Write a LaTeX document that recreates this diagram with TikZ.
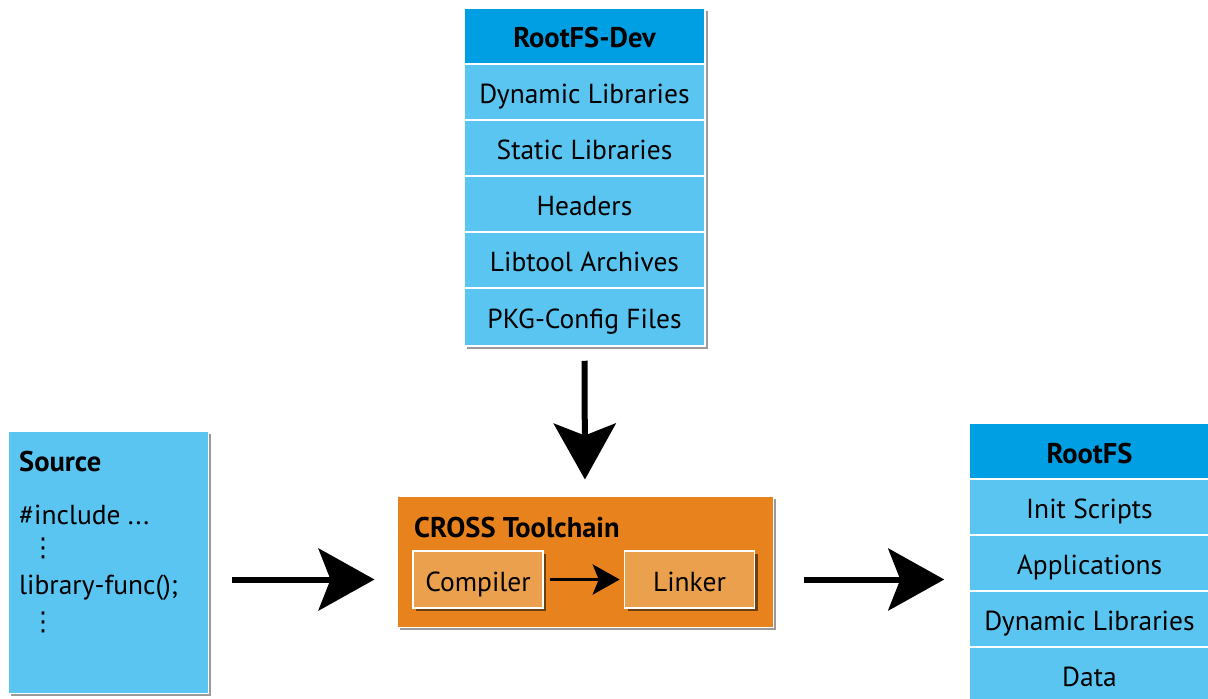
\documentclass[tikz,border=0pt]{standalone}
\usepackage{fontspec}
\setmainfont{PT Sans}
\newfontfamily\djv{DejaVu Sans}
\usetikzlibrary{arrows.meta,shadows}
\definecolor{lblue}{HTML}{5BC5F2}
\definecolor{dblue}{HTML}{009FE3}
\definecolor{orng}{HTML}{E8821C}
\definecolor{lorng}{HTML}{EBA04E}
\definecolor{shad}{HTML}{9A9A9A}
\definecolor{bshad}{HTML}{6A4010}
\tikzset{
  gshadow/.style={general shadow={fill=shad, shadow xshift=3pt, shadow yshift=-3pt}},
  rowbox/.style={rectangle, fill=lblue, draw=white, line width=1.5pt, minimum width=241pt,
    minimum height=56pt, inner sep=0pt, text height=23pt, text depth=0pt,
    font=\fontsize{27.5}{30}\selectfont, gshadow},
  headbox/.style={rowbox, fill=dblue, font=\fontsize{28.5}{30}\selectfont\bfseries},
  srcbox/.style={rectangle, fill=lblue, draw=white, line width=1pt, minimum width=200pt,
    minimum height=262pt, inner sep=0pt, gshadow},
  crossbox/.style={rectangle, fill=orng, draw=white, line width=1pt, minimum width=376pt,
    minimum height=131pt, inner sep=0pt, gshadow},
  toolbox/.style={rectangle, fill=lorng, draw=white, line width=1.5pt, minimum width=130pt,
    minimum height=57pt, inner sep=0pt, text height=24pt, text depth=0pt,
    font=\fontsize{27.5}{30}\selectfont,
    general shadow={fill=bshad, shadow xshift=3pt, shadow yshift=-3pt}},
  txt/.style={anchor=base west, inner sep=0pt, font=\fontsize{27.5}{30}\selectfont},
  btxt/.style={txt, font=\fontsize{28.5}{30}\selectfont\bfseries},
  dotstxt/.style={inner sep=0pt, font=\djv\fontsize{26}{28}\selectfont},
  bigarrow/.style={line width=6pt, -{Stealth[length=56pt, width=62pt, inset=12pt]}},
  smallarrow/.style={line width=3.5pt, -{Stealth[length=27pt, width=30pt, inset=6pt]}},
}
\begin{document}
\begin{tikzpicture}[x=1pt,y=-1pt]
\useasboundingbox (0,0) rectangle (1208,699);
% RootFS-Dev stack
\node[headbox] (devh) at (584.5,36) {RootFS-Dev};
\node[rowbox] (dyn) at (584.5,92) {Dynamic Libraries};
\node[rowbox] (stat) at (584.5,148) {Static Libraries};
\node[rowbox] (hdr) at (584.5,204) {Headers};
\node[rowbox] (lta) at (584.5,260) {Libtool Archives};
\node[rowbox, minimum height=58pt] (pkg) at (584.5,317) {PKG-Config Files};
% Source
\node[srcbox] (source) at (108,562) {};
\node[btxt] (srct) at (19,471) {Source};
\node[txt] (inc) at (19,524) {\#include ...};
\node[dotstxt] (d1) at (43,548) {⋮};
\node[txt] (lib) at (19,594) {library-func();};
\node[dotstxt] (d2) at (43,622) {⋮};
% CROSS toolchain
\node[crossbox] (cross) at (585,561.5) {};
\node[btxt] (crosst) at (414,537) {CROSS Toolchain};
\node[toolbox] (comp) at (478,579.5) {Compiler};
\node[toolbox] (link) at (689.5,579.5) {Linker};
% RootFS stack
\node[headbox] (rfh) at (1089.5,451.5) {RootFS};
\node[rowbox] (init) at (1089.5,507) {Init Scripts};
\node[rowbox] (apps) at (1089.5,563) {Applications};
\node[rowbox] (rdyn) at (1089.5,619) {Dynamic Libraries};
\node[rowbox] (data) at (1089.5,675) {Data};
% arrows
\draw[bigarrow, shorten <=14pt, shorten >=16pt] (pkg.south) -- (cross.north);
\draw[bigarrow, shorten <=23pt, shorten >=22pt] (source.east |- comp.center) -- (cross.west |- comp.center);
\draw[bigarrow, shorten <=30pt, shorten >=24pt] (cross.east |- comp.center) -- (rfh.west |- comp.center);
\draw[smallarrow, shorten <=6pt, shorten >=4pt] (comp.east) -- (link.west);
\end{tikzpicture}
\end{document}
